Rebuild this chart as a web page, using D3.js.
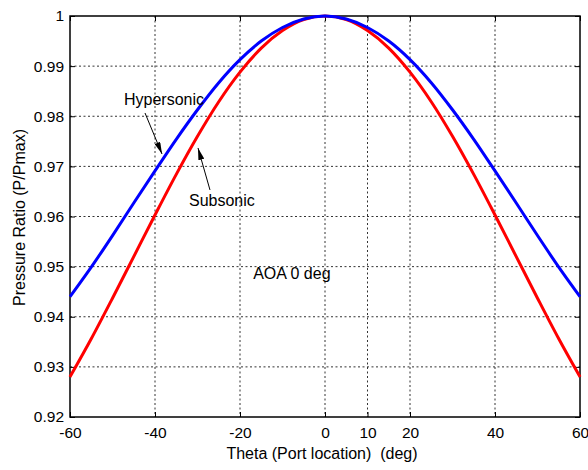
<!DOCTYPE html>
<html><head><meta charset="utf-8">
<script src="https://cdn.jsdelivr.net/npm/d3@7"></script>
<style>body{margin:0;background:#fff}svg{display:block}text{font-family:"Liberation Sans",Arial,sans-serif;fill:#000}</style>
</head><body><svg id="c" width="588" height="470"></svg>
<script>
const theta = [-60,-55,-50,-45,-40,-35,-30,-25,-20,-15,-10,-5,0,5,10,15,20,25,30,35,40,45,50,55,60];
const hypersonic = [0.9440,0.9499,0.9562,0.9627,0.9691,0.9754,0.9813,0.9867,0.9913,0.9950,0.9977,0.9994,1.0000,0.9994,0.9977,0.9950,0.9913,0.9867,0.9813,0.9754,0.9691,0.9627,0.9562,0.9499,0.9440];
const subsonic = [0.9280,0.9356,0.9437,0.9520,0.9603,0.9684,0.9760,0.9829,0.9888,0.9936,0.9971,0.9993,1.0000,0.9993,0.9971,0.9936,0.9888,0.9829,0.9760,0.9684,0.9603,0.9520,0.9437,0.9356,0.9280];
const xTicks = [-60,-40,-20,0,10,20,40,60];
const yTicks = [0.92,0.93,0.94,0.95,0.96,0.97,0.98,0.99,1];
const labels = [
  {text:"Hypersonic", x:-47.3, y:0.9822},
  {text:"Subsonic", x:-32.0, y:0.9621},
  {text:"AOA 0 deg", x:-16.9, y:0.9475}
];
const arrows = [
  {x1:-42.35, y1:0.98065, x2:-38.35, y2:0.97247},
  {x1:-27.06, y1:0.96529, x2:-29.88, y2:0.97367}
];

const L=70,R=580,T=16,B=417;
const svg=d3.select("#c");
const x=d3.scaleLinear().domain([-60,60]).range([L,R]);
const y=d3.scaleLinear().domain([0.92,1]).range([B,T]);

// grid
const g=svg.append("g");
g.selectAll("line.vx").data(xTicks.filter(d=>d>-60&&d<60)).join("line")
 .attr("x1",d=>x(d)).attr("x2",d=>x(d)).attr("y1",T).attr("y2",B)
 .attr("stroke","#333").attr("stroke-width",1).attr("stroke-dasharray","2,2.5");
g.selectAll("line.hy").data(yTicks.filter(d=>d>0.92&&d<1)).join("line")
 .attr("y1",d=>y(d)).attr("y2",d=>y(d)).attr("x1",L).attr("x2",R)
 .attr("stroke","#333").attr("stroke-width",1).attr("stroke-dasharray","2,2.5");

// axes
const fmtY=d=>d===1?"1":d3.format(".2f")(d);
const fmtX=d=>String(d);
const ax=svg.append("g").attr("transform",`translate(0,${B})`)
 .call(d3.axisBottom(x).tickValues(xTicks).tickFormat(fmtX).tickSizeInner(-5).tickSizeOuter(0).tickPadding(10));
const ay=svg.append("g").attr("transform",`translate(${L},0)`)
 .call(d3.axisLeft(y).tickValues(yTicks).tickFormat(fmtY).tickSizeInner(-5).tickSizeOuter(0).tickPadding(6));
const at=svg.append("g").attr("transform",`translate(0,${T})`)
 .call(d3.axisTop(x).tickValues(xTicks).tickSizeInner(-5).tickSizeOuter(0).tickFormat(""));
const ar=svg.append("g").attr("transform",`translate(${R},0)`)
 .call(d3.axisRight(y).tickValues(yTicks).tickSizeInner(-5).tickSizeOuter(0).tickFormat(""));
[ax,ay,at,ar].forEach(a=>{a.select(".domain").remove();a.selectAll("line").attr("stroke","#000");
 a.selectAll("text").style("font-family","Liberation Sans, Arial, sans-serif").style("font-size","15.5px").attr("fill","#000");});
svg.append("rect").attr("x",L).attr("y",T).attr("width",R-L).attr("height",B-T)
 .attr("fill","none").attr("stroke","#000").attr("stroke-width",1.5);

// curves
const line=(vals)=>d3.line().x((d,i)=>x(theta[i])).y(d=>y(d)).curve(d3.curveMonotoneX)(vals);
svg.append("path").attr("d",line(subsonic)).attr("fill","none").attr("stroke","#ff0000").attr("stroke-width",3);
svg.append("path").attr("d",line(hypersonic)).attr("fill","none").attr("stroke","#0000ff").attr("stroke-width",3);

// annotations
svg.append("defs").append("marker").attr("id","ah").attr("viewBox","0 0 12 6")
 .attr("refX",12).attr("refY",3).attr("markerWidth",12).attr("markerHeight",6)
 .attr("markerUnits","userSpaceOnUse").attr("orient","auto")
 .append("path").attr("d","M0,0 L12,3 L0,6 Z").attr("fill","#000");
svg.selectAll("line.arr").data(arrows).join("line")
 .attr("x1",d=>x(d.x1)).attr("y1",d=>y(d.y1)).attr("x2",d=>x(d.x2)).attr("y2",d=>y(d.y2))
 .attr("stroke","#000").attr("stroke-width",1).attr("marker-end","url(#ah)");
svg.selectAll("text.lab").data(labels).join("text")
 .attr("x",d=>x(d.x)).attr("y",d=>y(d.y)).style("font-size","16px").text(d=>d.text);

// axis titles
svg.append("text").attr("x",(L+R)/2-3).attr("y",459).attr("text-anchor","middle")
 .style("font-size","16px").style("white-space","pre").text("Theta (Port location)  (deg)");
svg.append("text").attr("transform",`translate(25,${(T+B)/2+1}) rotate(-90)`).attr("text-anchor","middle")
 .style("font-size","16px").text("Pressure Ratio (P/Pmax)");
</script></body></html>
